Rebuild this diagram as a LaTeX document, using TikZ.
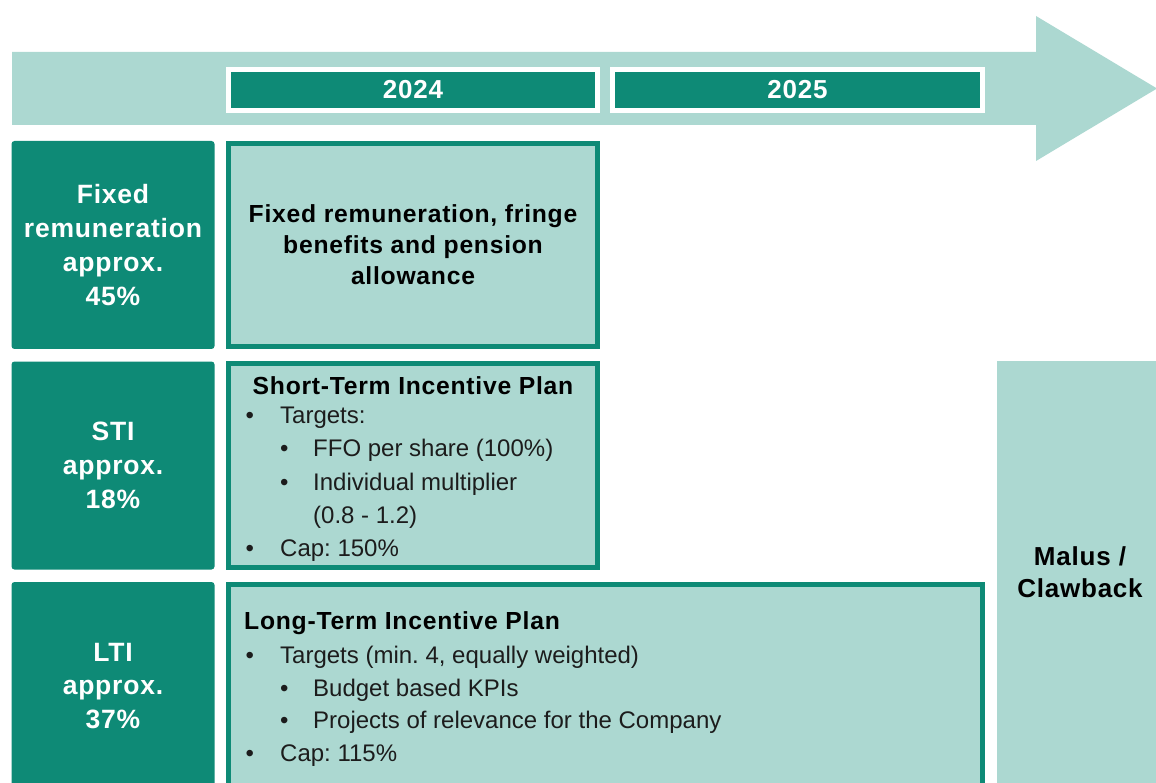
\documentclass[tikz,border=0pt]{standalone}
\usepackage{fontspec}
\setmainfont{Liberation Sans}
\newfontfamily\spaced{Liberation Sans}[LetterSpace=3]
\usetikzlibrary{positioning}
\frenchspacing

\definecolor{darkteal}{RGB}{14,138,118}
\definecolor{lightteal}{RGB}{172,216,209}
\definecolor{inkgray}{RGB}{28,28,28}

\newcommand{\lvlone}[1]{\makebox[34.5pt][l]{\textbullet}#1}
\newcommand{\lvltwo}[1]{\hspace*{34.5pt}\makebox[33pt][l]{\textbullet}#1}

\tikzset{
  sharebox/.style={fill=darkteal, rounded corners=3pt, text=white, align=center,
    minimum width=203pt, minimum height=208pt, inner sep=0pt,
    font=\spaced\bfseries\fontsize{26.5}{33.7}\selectfont},
  planbox/.style={fill=lightteal, draw=darkteal, line width=5pt, inner sep=0pt,
    text=black, align=center, font=\spaced\bfseries\fontsize{24.7}{31}\selectfont},
  yearbox/.style={fill=darkteal, draw=white, line width=5pt, text=white,
    minimum height=41pt, inner sep=0pt, font=\spaced\bfseries\fontsize{26}{30}\selectfont},
  plantitle/.style={inner sep=0pt, text=black, font=\spaced\bfseries\fontsize{24.7}{31}\selectfont},
  planlist/.style={inner sep=0pt, align=left, anchor=north west, text=inkgray,
    font=\fontsize{24}{33.2}\selectfont},
}

\begin{document}
\begin{tikzpicture}[x=1pt, y=-1pt]
\useasboundingbox (0,0) rectangle (1156,783);
\clip (0,0) rectangle (1156,783);

% time line
\fill[lightteal] (12,52) -- (1036,52) -- (1036,16) -- (1157,88.5) -- (1036,161) -- (1036,125) -- (12,125) -- cycle;
\node[yearbox, minimum width=369pt] (y2024) at (413,90) {2024};
\node[yearbox, minimum width=370pt] (y2025) at (797.5,90) {2025};

% shares
\node[sharebox] (fixedshare) at (113,245) {Fixed\\remuneration\\approx.\\45\%};
\node[sharebox] (stishare) at (113,465.5) {STI\\approx.\\18\%};
\node[sharebox] (ltishare) at (113,686) {LTI\\approx.\\37\%};

% plan boxes
\node[planbox, minimum width=369pt, minimum height=203pt] (fixedplan) at (413,245)
  {Fixed remuneration, fringe\\benefits and pension\\allowance};
\node[planbox, minimum width=369pt, minimum height=204pt] (stiplan) at (413,465.5) {};
\node[planbox, minimum width=754pt, minimum height=213pt] (ltiplan) at (605.5,691) {};

\node[plantitle, anchor=base] (stititle) at (413,394) {Short-Term Incentive Plan};
\node[planlist] (stilist) at (245.5,407) {\lvlone{Targets:}\\
  \lvltwo{FFO per share (100\%)}\\
  \lvltwo{Individual multiplier}\\
  \hspace*{67.5pt}(0.8 - 1.2)\\
  \lvlone{Cap: 150\%}};

\node[plantitle, anchor=base west] (ltititle) at (244,629.3) {Long-Term Incentive Plan};
\node[planlist, font=\fontsize{24}{32.6}\selectfont] (ltilist) at (245.5,646.1)
  {\lvlone{Targets (min. 4, equally weighted)}\\
  \lvltwo{Budget based KPIs}\\
  \lvltwo{Projects of relevance for the Company}\\
  \lvlone{Cap: 115\%}};

% malus / clawback
\node[fill=lightteal, minimum width=173pt, minimum height=429pt, inner sep=0pt] (malusbox) at (1083.5,575.5) {};
\node[plantitle, align=center, anchor=north, font=\spaced\bfseries\fontsize{26}{32.5}\selectfont] (malustxt) at (1080,546) {Malus /\\Clawback};
\end{tikzpicture}
\end{document}
